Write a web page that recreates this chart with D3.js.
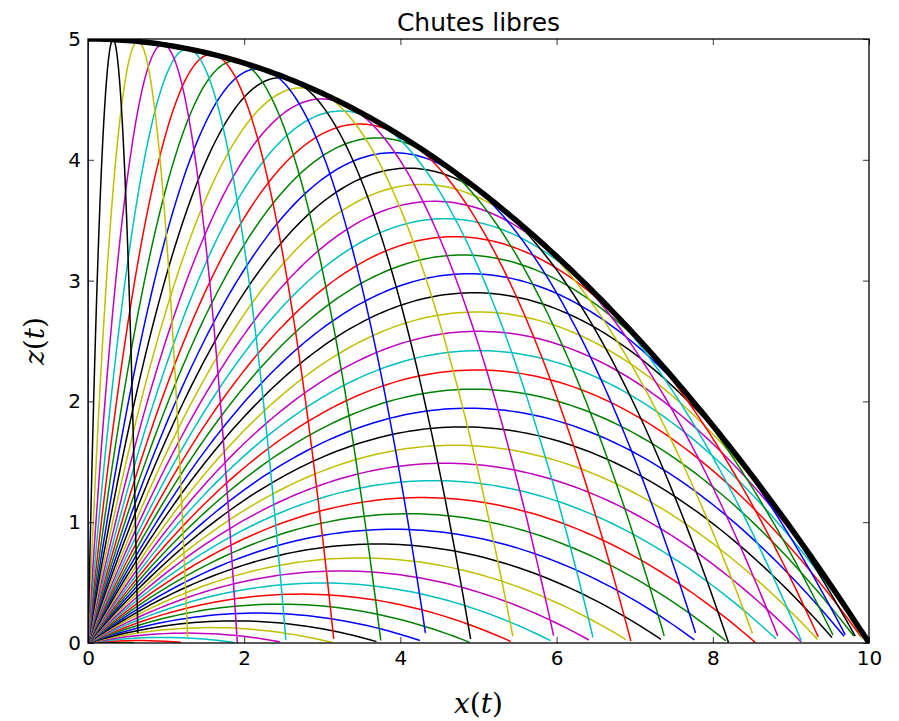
<!DOCTYPE html>
<html>
<head>
<meta charset="utf-8">
<script src="https://cdn.jsdelivr.net/npm/d3@7"></script>
<style>
  body { margin: 0; background: #fff; }
  svg { display: block; }
</style>
</head>
<body>
<div id="chart"></div>
<script>
// launch angles (degrees), 50 values from 0 to 90
const angles = [0, 1.837, 3.673, 5.510, 7.347, 9.184, 11.020, 12.857, 14.694, 16.531,
  18.367, 20.204, 22.041, 23.878, 25.714, 27.551, 29.388, 31.224, 33.061, 34.898,
  36.735, 38.571, 40.408, 42.245, 44.082, 45.918, 47.755, 49.592, 51.429, 53.265,
  55.102, 56.939, 58.776, 60.612, 62.449, 64.286, 66.122, 67.959, 69.796, 71.633,
  73.469, 75.306, 77.143, 78.980, 80.816, 82.653, 84.490, 86.327, 88.163, 90];
const g = 9.81;        // gravity
const v0 = 9.905;      // launch speed
const dt = 0.01;       // time step
const colorCycle = ["#0000ff", "#008000", "#ff0000", "#00bfbf", "#bf00bf", "#bfbf00", "#000000"];
const xTicks = [0, 2, 4, 6, 8, 10];
const yTicks = [0, 1, 2, 3, 4, 5];

const W = 899, H = 721;
var margin = { top: 39, right: 30, bottom: 78, left: 88 };

var x = d3.scaleLinear().domain([0, 10]).range([margin.left, W - margin.right]);
var y = d3.scaleLinear().domain([0, 5]).range([H - margin.bottom, margin.top]);

const svg = d3.select("#chart").append("svg")
  .attr("width", W).attr("height", H)
  .style("font-family", "'DejaVu Sans', sans-serif");

svg.append("rect").attr("width", W).attr("height", H).attr("fill", "#fff");

svg.append("defs").append("clipPath").attr("id", "plotclip")
  .append("rect")
  .attr("x", x(0)).attr("y", y(5))
  .attr("width", x(10) - x(0)).attr("height", y(0) - y(5));

// trajectory of each launch: sampled every dt while z >= 0
function trajectory(deg) {
  const th = deg * Math.PI / 180;
  const pts = [];
  for (let k = 0; ; k++) {
    const t = k * dt;
    const z = v0 * Math.sin(th) * t - 0.5 * g * t * t;
    if (z < 0 && k > 0) break;
    pts.push([v0 * Math.cos(th) * t, Math.max(z, 0)]);
    if (k > 0 && z === 0) break;
  }
  return pts;
}

var line = d3.line().x(d => x(d[0])).y(d => y(d[1]));

const plot = svg.append("g").attr("clip-path", "url(#plotclip)");

plot.selectAll("path.traj")
  .data(angles)
  .join("path")
  .attr("class", "traj")
  .attr("fill", "none")
  .attr("stroke", (d, i) => colorCycle[i % colorCycle.length])
  .attr("stroke-width", 1.5)
  .attr("d", d => line(trajectory(d)));

// envelope (parabole de sureté)
const hmax = v0 * v0 / (2 * g);
const envPts = d3.range(0, 10.001, 0.05).map(xx => [xx, hmax - g * xx * xx / (2 * v0 * v0)]);
plot.append("path")
  .attr("fill", "none")
  .attr("stroke", "#000")
  .attr("stroke-width", 5.5)
  .attr("d", line(envPts));

// axes, ticks pointing inwards on all sides
function styleAxis(sel) {
  sel.select(".domain").remove();
  sel.selectAll(".tick line").attr("stroke", "#000").attr("stroke-width", 0.8);
  sel.selectAll(".tick text").attr("font-size", 20).attr("fill", "#000")
    .style("font-family", "'DejaVu Sans', sans-serif");
}

svg.append("g").attr("transform", `translate(0,${y(0)})`)
  .call(d3.axisBottom(x).tickValues(xTicks).tickFormat(d3.format("d")).tickSize(-6).tickPadding(8))
  .call(styleAxis);
svg.append("g").attr("transform", `translate(0,${y(5)})`)
  .call(d3.axisTop(x).tickValues(xTicks).tickFormat("").tickSize(-6))
  .call(styleAxis);
svg.append("g").attr("transform", `translate(${x(0)},0)`)
  .call(d3.axisLeft(y).tickValues(yTicks).tickFormat(d3.format("d")).tickSize(-6).tickPadding(7))
  .call(styleAxis);
svg.append("g").attr("transform", `translate(${x(10)},0)`)
  .call(d3.axisRight(y).tickValues(yTicks).tickFormat("").tickSize(-6))
  .call(styleAxis);

// frame
svg.append("rect")
  .attr("x", x(0)).attr("y", y(5))
  .attr("width", x(10) - x(0)).attr("height", y(0) - y(5))
  .attr("fill", "none").attr("stroke", "#000").attr("stroke-width", 1.3);

// title
svg.append("text")
  .attr("x", (x(0) + x(10)) / 2).attr("y", 31)
  .attr("text-anchor", "middle")
  .attr("font-size", 25)
  .text("Chutes libres");

// axis labels (math style)
function mathLabel(sel, v) {
  sel.style("font-family", "'DejaVu Serif', 'Liberation Serif', serif").attr("font-size", 28);
  sel.append("tspan").attr("font-style", "italic").text(v);
  sel.append("tspan").text("(");
  sel.append("tspan").attr("font-style", "italic").text("t");
  sel.append("tspan").text(")");
}
svg.append("text")
  .attr("x", (x(0) + x(10)) / 2).attr("y", 713)
  .attr("text-anchor", "middle")
  .call(mathLabel, "x");
svg.append("text")
  .attr("transform", `translate(44,${(y(0) + y(5)) / 2}) rotate(-90)`)
  .attr("text-anchor", "middle")
  .call(mathLabel, "z");
</script>
</body>
</html>
